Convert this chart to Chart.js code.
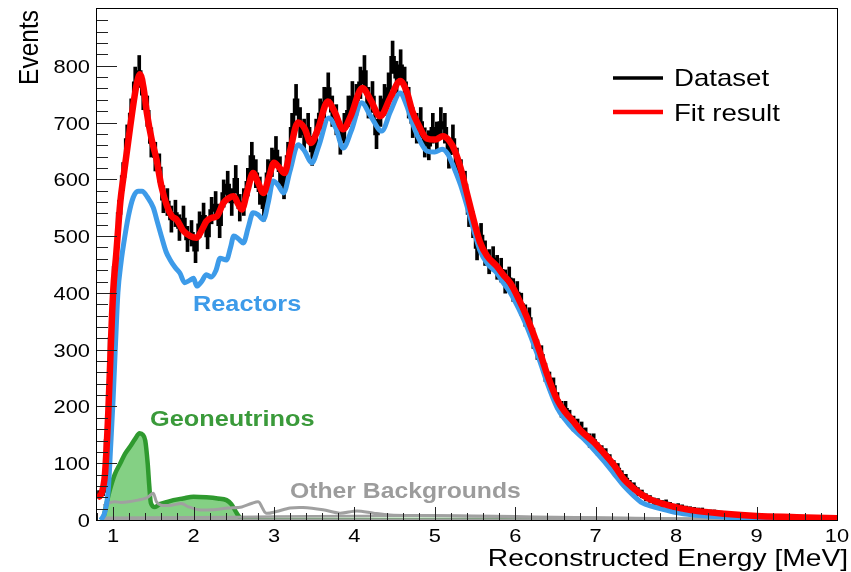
<!DOCTYPE html>
<html>
<head>
<meta charset="utf-8">
<title>Reconstructed energy spectrum</title>
<script src="https://cdn.jsdelivr.net/npm/chart.js@4.4.1/dist/chart.umd.min.js"></script>
<style>
  html, body { margin: 0; padding: 0; background: #fff; }
  canvas { display: block; }
</style>
</head>
<body>
<canvas id="myChart" width="851" height="572"></canvas>
<script>
'use strict';

//Dataset: counts per 0.05 MeV bin, first bin starts at 0.8 MeV
let binStart = 0.8;
let binWidth = 0.05;
let dataCounts = [
  45, 50, 140, 320, 445, 540, 605, 670, 715, 770,
  790, 750, 720, 665, 640, 620, 565, 560, 530, 540,
  515, 530, 495, 505, 475, 520, 535, 500, 545, 555,
  520, 575, 590, 560, 600, 550, 560, 595, 640, 610,
  580, 550, 610, 630, 650, 615, 590, 640, 690, 740,
  700, 680, 690, 650, 680, 715, 735, 760, 720, 705,
  670, 690, 720, 745, 740, 770, 790, 735, 745, 680,
  720, 740, 760, 815, 780, 800, 770, 735, 700, 690,
  700, 665, 660, 690, 675, 700, 690, 645, 670, 630,
  610, 590, 540, 520, 480, 500, 470, 455, 460, 445,
  440, 420, 425, 405, 400, 380, 360, 355, 320, 300,
  290, 260, 245, 235, 210, 195, 195, 180, 170, 165,
  160, 150, 140, 140, 125, 120, 115, 105, 95, 90,
  78, 72, 62, 58, 50, 46, 40, 37, 33, 32,
  29, 30, 26, 23, 24, 22, 20, 19, 18, 17,
  17, 15, 14, 14, 12, 12, 11, 10, 10, 9,
  9, 8, 8, 7, 7, 6, 6, 6, 5, 6,
  5, 5, 4, 5, 4, 4, 4, 3, 4, 3,
  3, 4, 3, 3
];

//Fit result (red)
let fitEnergy = [0.80, 0.85, 0.88, 0.90, 0.94, 0.97, 1.00, 1.04, 1.09, 1.13, 1.21, 1.29, 1.335, 1.38, 1.42, 1.48,
  1.54, 1.60, 1.67, 1.73, 1.79, 1.87, 1.96, 2.04, 2.10, 2.16, 2.22, 2.29, 2.37, 2.44, 2.50, 2.56, 2.60,
  2.67, 2.74, 2.80, 2.87, 2.94, 3.00, 3.07, 3.13, 3.20, 3.30, 3.38, 3.46, 3.55, 3.67, 3.75, 3.86, 3.95,
  4.10, 4.20, 4.32, 4.45, 4.57, 4.65, 4.72, 4.80, 4.90, 5.00, 5.10, 5.18, 5.25, 5.32, 5.40, 5.48, 5.56,
  5.65, 5.77, 5.85, 5.94, 6.04, 6.14, 6.22, 6.31, 6.40, 6.52, 6.62, 6.72, 6.81, 6.97, 7.10, 7.22, 7.35,
  7.47, 7.58, 7.70, 7.85, 8.05, 8.20, 8.60, 9.00, 9.50, 10.0];
let fitEvents = [40, 45, 60, 82, 188, 300, 400, 470, 560, 605, 690, 765, 785, 760, 717, 670,
  635, 588, 553, 535, 529, 510, 500, 497, 510, 526, 532, 535, 558, 567, 570, 555, 547,
  580, 611, 595, 576, 605, 629, 620, 611, 650, 700, 690, 664, 690, 737, 720, 688, 710,
  761, 740, 711, 745, 773, 755, 720, 695, 672, 670, 676, 668, 650, 620, 575, 530, 490,
  465, 447, 432, 417, 390, 359, 330, 294, 255, 212, 190, 174, 158, 138, 118, 98, 72,
  56, 44, 35, 28, 21, 17, 11, 7, 5, 3];

//Reactors (blue)
let reactorEnergy = [0.85, 0.90, 0.94, 0.97, 1.00, 1.03, 1.06, 1.10, 1.13, 1.19, 1.25, 1.31, 1.36, 1.43, 1.50,
  1.55, 1.60, 1.66, 1.71, 1.77, 1.83, 1.89, 1.95, 2.00, 2.04, 2.10, 2.16, 2.22, 2.28, 2.33, 2.41, 2.46,
  2.50, 2.56, 2.62, 2.68, 2.74, 2.80, 2.87, 2.93, 2.99, 3.05, 3.12, 3.20, 3.30, 3.38, 3.47, 3.56, 3.68,
  3.77, 3.86, 3.96, 4.09, 4.20, 4.34, 4.45, 4.57, 4.65, 4.72, 4.80, 4.90, 5.00, 5.09, 5.16, 5.23, 5.32,
  5.40, 5.48, 5.56, 5.65, 5.77, 5.85, 5.94, 6.04, 6.14, 6.22, 6.31, 6.40, 6.52, 6.62, 6.72, 6.85, 6.97,
  7.10, 7.22, 7.35, 7.47, 7.58, 7.70, 7.80, 8.00, 8.21, 8.63, 9.20, 10.0];
let reactorEvents = [0, 15, 53, 130, 212, 310, 400, 455, 485, 535, 568, 579, 579, 568, 550,
  525, 500, 472, 458, 445, 435, 418, 422, 426, 412, 420, 432, 428, 440, 461, 458, 480,
  500, 495, 488, 515, 541, 538, 529, 560, 597, 590, 576, 615, 661, 650, 629, 660, 708,
  690, 655, 685, 735, 712, 685, 720, 752, 730, 700, 672, 650, 648, 653, 645, 623, 590,
  553, 512, 475, 452, 435, 418, 400, 373, 342, 313, 278, 240, 198, 177, 160, 143, 125,
  104, 83, 60, 43, 30, 24, 20, 13, 9, 5, 2, 0];

//Geoneutrinos (green)
let geoEnergy = [0.85, 0.88, 0.92, 0.96, 1.02, 1.09, 1.15, 1.21, 1.27, 1.33, 1.37, 1.40, 1.43, 1.45, 1.47,
  1.52, 1.58, 1.65, 1.75, 1.87, 2.00, 2.16, 2.30, 2.41, 2.47, 2.52, 2.56, 2.60, 2.70, 10.0];
let geoEvents = [0, 5, 30, 53, 80, 100, 117, 129, 142, 153, 150, 140, 100, 60, 30,
  23, 28, 31, 35, 38, 41, 40, 38, 35, 28, 16, 7, 2, 0, 0];

//Other backgrounds (grey)
let bgOneEnergy = [0.88, 0.95, 1.02, 1.10, 1.19, 1.31, 1.40, 1.44, 1.50, 1.54, 1.60, 1.73, 1.85, 1.94, 2.06,
  2.23, 2.43, 2.60, 2.72, 2.81, 2.85, 2.90, 3.03, 3.20, 3.36, 3.61, 3.82, 4.03, 4.24, 4.44, 4.80, 5.50,
  6.00, 6.50, 7.00, 7.50, 8.00, 9.00, 10.0];
let bgOneEvents = [25, 30, 32, 31, 32, 35, 38, 41, 47, 32, 26, 26, 29, 23, 18,
  18, 21, 23, 29, 32, 23, 12, 15, 21, 22, 18, 12, 16, 12, 9, 8, 7,
  6, 5, 4, 3, 2, 1.5, 1];
let bgTwoEnergy = [0.88, 2.00, 3.00, 4.00, 5.00, 6.00, 7.00, 8.00, 9.00, 10.0];
let bgTwoEvents = [4, 5, 6, 7, 8, 5, 4, 2, 1.5, 1];
let bgThreeEnergy = [0.88, 10.0];
let bgThreeEvents = [1, 1];

//Axis ticks
let xTickLabels = [1, 2, 3, 4, 5, 6, 7, 8, 9, 10];
let yTickLabels = [0, 100, 200, 300, 400, 500, 600, 700, 800];

let fontFamily = '"Liberation Sans", Arial, Helvetica, sans-serif';
let stretch = 1.15;

function toPoints(xs, ys) {
  let pts = [];
  for (let i = 0; i < xs.length; i++) {
    pts.push({x: xs[i], y: ys[i]});
  }
  return pts;
}

let dataPoints = [];
let errorBars = [];
for (let i = 0; i < dataCounts.length; i++) {
  let e = binStart + binWidth * (i + 0.5);
  let err = Math.sqrt(dataCounts[i]);
  dataPoints.push({x: e, y: dataCounts[i]});
  errorBars.push({x: e, y: [dataCounts[i] - err, dataCounts[i] + err]});
}

function stretchText(ctx, text, x, y, font, color, align) {
  ctx.save();
  ctx.translate(x, y);
  ctx.scale(stretch, 1);
  ctx.font = font;
  ctx.fillStyle = color;
  ctx.textAlign = align;
  ctx.textBaseline = 'alphabetic';
  ctx.fillText(text, 0, 0);
  ctx.restore();
}

// frame, inward ticks, labels and legend in ROOT style
let rootStyle = {
  id: 'rootStyle',
  afterDatasetsDraw(chart) {
    let ctx = chart.ctx;
    let area = chart.chartArea;
    let xs = chart.scales.x;
    let ys = chart.scales.y;
    ctx.save();
    ctx.strokeStyle = '#222';
    ctx.lineWidth = 1;

    // y ticks
    for (let v = 0; v <= 880; v += 20) {
      let py = Math.round(ys.getPixelForValue(v)) + 0.5;
      let len = v % 100 === 0 ? 20 : 11;
      ctx.beginPath();
      ctx.moveTo(area.left, py);
      ctx.lineTo(area.left + len, py);
      ctx.stroke();
    }
    // x ticks
    for (let k = 0; k <= 46; k++) {
      let e = 0.8 + k * 0.2;
      let px = Math.round(xs.getPixelForValue(e)) + 0.5;
      let len = (k - 1) % 5 === 0 ? 13 : 7;
      ctx.beginPath();
      ctx.moveTo(px, area.bottom);
      ctx.lineTo(px, area.bottom - len);
      ctx.stroke();
    }
    // frame
    ctx.strokeStyle = '#000';
    ctx.strokeRect(area.left - 0.5, area.top - 0.5, area.right - area.left + 1, area.bottom - area.top + 1);

    // tick labels
    let tickFont = '19px ' + fontFamily;
    for (let i = 0; i < xTickLabels.length; i++) {
      stretchText(ctx, String(xTickLabels[i]), xs.getPixelForValue(xTickLabels[i]), 542, tickFont, '#000', 'center');
    }
    for (let i = 0; i < yTickLabels.length; i++) {
      stretchText(ctx, String(yTickLabels[i]), 90, ys.getPixelForValue(yTickLabels[i]) + 7, tickFont, '#000', 'right');
    }

    // axis titles
    let titleFont = '24.5px ' + fontFamily;
    stretchText(ctx, 'Reconstructed Energy [MeV]', 848, 566, titleFont, '#000', 'right');
    ctx.save();
    ctx.translate(38, 10);
    ctx.scale(stretch, 1);
    ctx.rotate(-Math.PI / 2);
    ctx.font = titleFont;
    ctx.fillStyle = '#000';
    ctx.textAlign = 'right';
    ctx.textBaseline = 'alphabetic';
    ctx.fillText('Events', 0, 0);
    ctx.restore();

    // component labels
    stretchText(ctx, 'Reactors', 193, 311, 'bold 22px ' + fontFamily, '#3d9be9', 'left');
    stretchText(ctx, 'Geoneutrinos', 150, 426, 'bold 22px ' + fontFamily, '#3a9a3a', 'left');
    stretchText(ctx, 'Other Backgrounds', 290, 498, 'bold 21.5px ' + fontFamily, '#9c9c9c', 'left');

    // legend
    ctx.lineCap = 'butt';
    ctx.strokeStyle = '#000';
    ctx.lineWidth = 3.5;
    ctx.beginPath();
    ctx.moveTo(613, 78);
    ctx.lineTo(663, 78);
    ctx.stroke();
    ctx.strokeStyle = '#ff0000';
    ctx.lineWidth = 4.5;
    ctx.beginPath();
    ctx.moveTo(613, 112);
    ctx.lineTo(663, 112);
    ctx.stroke();
    stretchText(ctx, 'Dataset', 674, 86, '24px ' + fontFamily, '#000', 'left');
    stretchText(ctx, 'Fit result', 674, 121, '24px ' + fontFamily, '#000', 'left');
    ctx.restore();
  }
};

let ctx = document.getElementById('myChart').getContext('2d');

let myChartObj = {
  type: 'line',
  data: {
    datasets: [
      {
        label: 'Fit result',
        data: toPoints(fitEnergy, fitEvents),
        borderColor: '#ff0000',
        borderWidth: 6.5,
        pointRadius: 0,
        cubicInterpolationMode: 'monotone',
        order: 0
      },
      {
        label: 'Reactors',
        data: toPoints(reactorEnergy, reactorEvents),
        borderColor: '#3d9be9',
        borderWidth: 5,
        pointRadius: 0,
        cubicInterpolationMode: 'monotone',
        order: 1
      },
      {
        label: 'Dataset',
        data: dataPoints,
        borderColor: '#000',
        borderWidth: 2.5,
        pointRadius: 0,
        stepped: 'middle',
        order: 2
      },
      {
        type: 'bar',
        label: 'Dataset errors',
        data: errorBars,
        backgroundColor: '#000',
        barThickness: 3,
        grouped: false,
        order: 3
      },
      {
        label: 'Other Backgrounds',
        data: toPoints(bgOneEnergy, bgOneEvents),
        borderColor: '#a0a0a0',
        borderWidth: 3,
        pointRadius: 0,
        tension: 0.3,
        order: 4
      },
      {
        label: 'Other Backgrounds 2',
        data: toPoints(bgTwoEnergy, bgTwoEvents),
        borderColor: '#a0a0a0',
        borderWidth: 2.5,
        pointRadius: 0,
        tension: 0.3,
        order: 5
      },
      {
        label: 'Other Backgrounds 3',
        data: toPoints(bgThreeEnergy, bgThreeEvents),
        borderColor: '#a0a0a0',
        borderWidth: 2.5,
        pointRadius: 0,
        order: 6
      },
      {
        label: 'Geoneutrinos',
        data: toPoints(geoEnergy, geoEvents),
        borderColor: '#2f9a2f',
        backgroundColor: '#84d084',
        borderWidth: 4.5,
        pointRadius: 0,
        fill: 'origin',
        cubicInterpolationMode: 'monotone',
        order: 7
      }
    ]
  },
  options: {
    responsive: false,
    animation: false,
    events: [],
    layout: {
      padding: {left: 97, right: 14, top: 9, bottom: 52}
    },
    scales: {
      x: {
        type: 'linear',
        min: 0.8,
        max: 10,
        offset: false,
        display: false
      },
      y: {
        type: 'linear',
        min: 0,
        max: 900,
        display: false
      }
    },
    plugins: {
      legend: {display: false},
      tooltip: {enabled: false}
    }
  },
  plugins: [rootStyle]
};

const myChart = new Chart(ctx, myChartObj);
</script>
</body>
</html>
